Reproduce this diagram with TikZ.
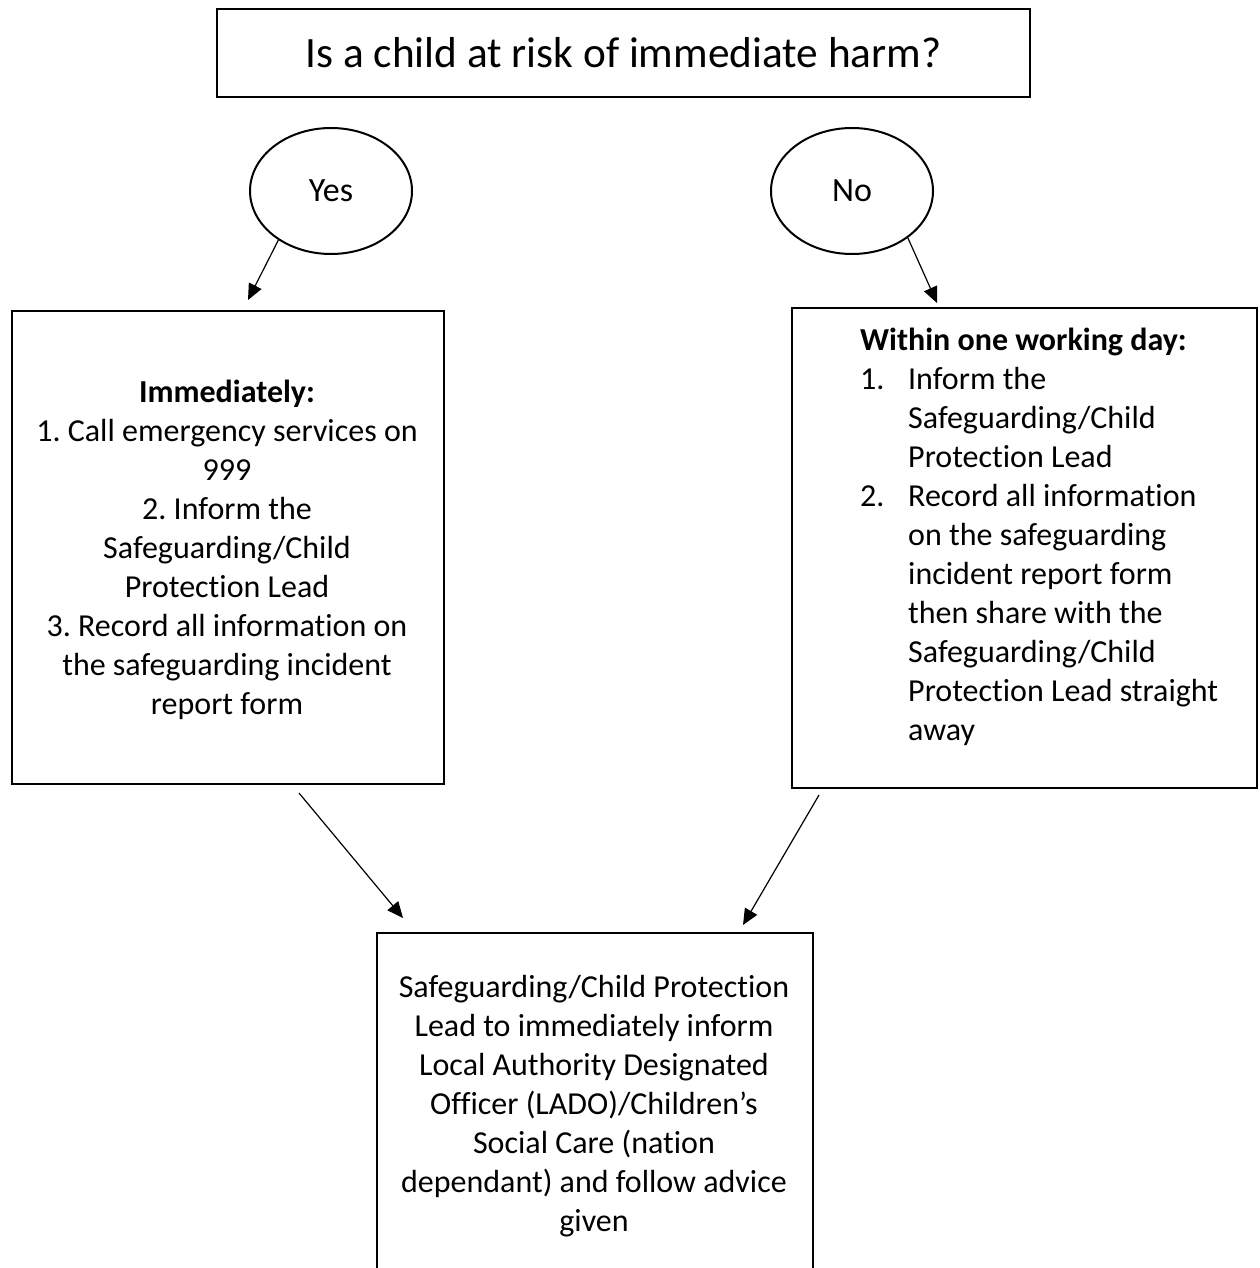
\documentclass[tikz,border=0pt]{standalone}
\usepackage{fontspec}
\setmainfont[Ligatures=NoCommon]{Carlito}
\usetikzlibrary{arrows.meta,calc,shapes.geometric}
\frenchspacing
\begin{document}
\begin{tikzpicture}[x=1pt,y=-1pt,
  box/.style={draw,line width=2pt,rectangle,inner sep=0pt,anchor=north west},
  oval/.style={draw,line width=2pt,ellipse,inner sep=0pt,minimum width=162pt,minimum height=126pt,font=\fontsize{34}{39}\selectfont},
  arr/.style={line width=1.2pt,-{Triangle[length=16pt,width=14pt]}},
  body/.style={font=\fontsize{32}{39}\selectfont, inner sep=0pt, anchor=north}
]
\useasboundingbox (0,0) rectangle (1259,1268);

\node[box,minimum width=813pt,minimum height=88pt,font=\fontsize{43.3}{50}\selectfont] (title) at (216,8) {Is a child at risk of immediate harm?};

\node[oval] (yes) at (331,191) {Yes};
\node[oval] (no) at (852,191) {No};

\node[box,minimum width=432pt,minimum height=473pt] (lbox) at (11,310) {};
\node[box,minimum width=465pt,minimum height=480pt] (rbox) at (791,307) {};
\node[box,minimum width=436pt,minimum height=400pt] (bbox) at (376,932) {};

\node[body] (ltext) at (227,374.7) {\begin{tabular}{@{}c@{}}
\textbf{Immediately:}\\
1. Call emergency services on\\
999\\
2. Inform the\\
Safeguarding/Child\\
Protection Lead\\
3. Record all information on\\
the safeguarding incident\\
report form
\end{tabular}};

\node[body,anchor=north west] (rtext) at (860,322.7) {\begin{tabular}{@{}l@{}l@{}}
\multicolumn{2}{@{}l@{}}{\textbf{Within one working day:}}\\
\makebox[48pt][l]{1.} & Inform the\\
 & Safeguarding/Child\\
 & Protection Lead\\
\makebox[48pt][l]{2.} & Record all information\\
 & on the safeguarding\\
 & incident report form\\
 & then share with the\\
 & Safeguarding/Child\\
 & Protection Lead straight\\
 & away
\end{tabular}};

\node[body] (btext) at (594,970) {\begin{tabular}{@{}c@{}}
Safeguarding/Child Protection\\
Lead to immediately inform\\
Local Authority Designated\\
Officer (LADO)/Children’s\\
Social Care (nation\\
dependant) and follow advice\\
given
\end{tabular}};

\draw[arr] (yes.223) -- ($(lbox.north west)+(237,-10)$);
\draw[arr] (no.320) -- ($(rbox.north west)+(146,-4)$);
\draw[arr] ($(lbox.south west)+(288,8)$) -- ($(bbox.north west)+(27,-14)$);
\draw[arr] ($(rbox.south west)+(28,6)$) -- ($(bbox.north west)+(367,-7)$);
\end{tikzpicture}
\end{document}
